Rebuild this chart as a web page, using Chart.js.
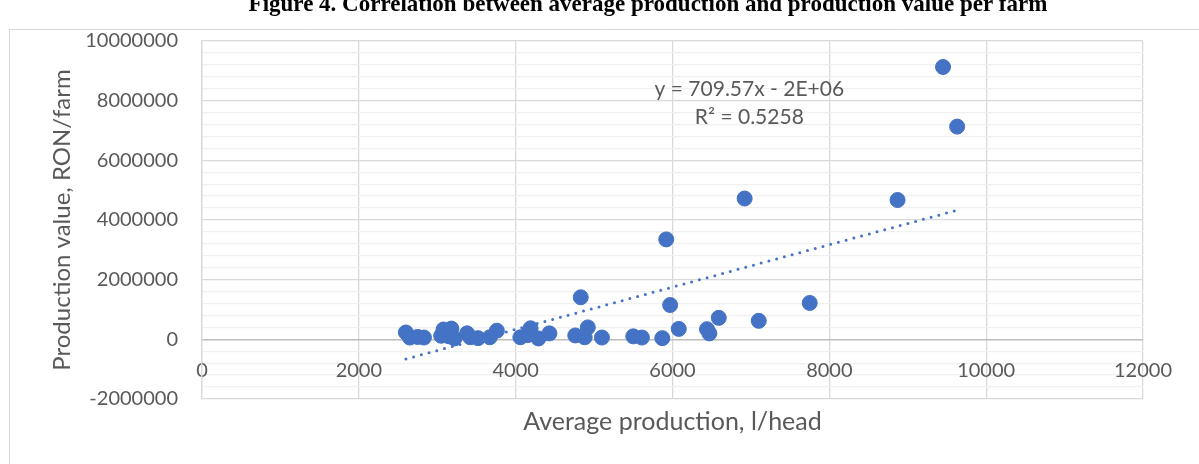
<!DOCTYPE html>
<html>
<head>
<meta charset="utf-8">
<script src="https://cdn.jsdelivr.net/npm/chart.js@4/dist/chart.umd.min.js"></script>
<style>
	html, body { margin: 0; padding: 0; background: #fff; }
	#wrap { position: relative; width: 1199px; height: 464px; overflow: hidden; }
</style>
</head>
<body>
<div id="wrap"><canvas id="chart" width="1199" height="464"></canvas></div>
<script>
// average production, l/head
const prodX = [2600, 2650, 2750, 2830, 3050, 3080, 3150, 3180, 3220, 3380,
	3420, 3520, 3670, 3760, 4060, 4150, 4190, 4290, 4430, 4760,
	4830, 4880, 4920, 5100, 5500, 5610, 5870, 5920, 5970, 6080,
	6440, 6470, 6590, 7100, 7750, 6920, 8870, 9450, 9630]
// production value, RON/farm
const prodY = [230000, 60000, 80000, 60000, 120000, 330000, 100000, 360000, 30000, 200000,
	70000, 40000, 70000, 290000, 70000, 140000, 370000, 30000, 200000, 130000,
	1410000, 70000, 400000, 60000, 100000, 60000, 40000, 3350000, 1150000, 350000,
	340000, 200000, 720000, 620000, 1220000, 4720000, 4670000, 9130000, 7130000]
// linear trendline as labelled in the picture
const trendSlope = 709.57
const trendIntercept = -2505000
const trendLabels = ['y = 709.57x - 2E+06', 'R\u00b2 = 0.5258']
const xTicks = [0, 2000, 4000, 6000, 8000, 10000, 12000]
const yTicks = [-2000000, 0, 2000000, 4000000, 6000000, 8000000, 10000000]

const blue = '#4472C4'
const grey = '#595959'
const fontFam = 'Lato, "Open Sans", sans-serif'

let points = prodX.map((x, i) => ({ x: x, y: prodY[i] }))
let tx = [Math.min(...prodX), Math.max(...prodX)]
let trendPts = tx.map(x => ({ x: x, y: trendSlope * x + trendIntercept }))

let framePlugin = {
	id: 'frame',
	beforeDraw: chart => {
		let c = chart.ctx
		c.save()
		c.fillStyle = '#fff'
		c.fillRect(0, 0, chart.width, chart.height)
		c.strokeStyle = '#d9d9d9'
		c.lineWidth = 1
		c.beginPath()
		c.moveTo(9.5, chart.height)
		c.lineTo(9.5, 29.5)
		c.lineTo(chart.width, 29.5)
		c.stroke()
		c.restore()
	},
	afterDraw: chart => {
		let c = chart.ctx
		let sx = chart.scales.x, sy = chart.scales.y
		c.save()
		// figure caption, cut at the top of the picture
		c.fillStyle = '#000'
		c.font = 'bold 23px "Liberation Serif", serif'
		c.textAlign = 'center'
		c.textBaseline = 'alphabetic'
		c.fillText('Figure 4. Correlation between average production and production value per farm', 648, 11)
		// trendline label
		c.fillStyle = grey
		c.font = '21px ' + fontFam
		c.textBaseline = 'middle'
		c.fillText(trendLabels[0], sx.getPixelForValue(6980), sy.getPixelForValue(8390000))
		c.fillText(trendLabels[1], sx.getPixelForValue(6980), sy.getPixelForValue(7450000))
		c.restore()
	}
}

new Chart(document.getElementById('chart'), {
	type: 'scatter',
	data: {
		datasets: [{
			label: 'Production value',
			data: points,
			backgroundColor: blue,
			borderColor: blue,
			pointRadius: 7.5,
			pointHoverRadius: 7.5,
			order: 1
		}, {
			type: 'line',
			label: 'Linear trend',
			data: trendPts,
			borderColor: blue,
			borderWidth: 3,
			borderDash: [0, 8],
			borderCapStyle: 'round',
			pointRadius: 0,
			fill: false,
			order: 2
		}]
	},
	options: {
		responsive: false,
		animation: false,
		layout: { padding: { left: 48, top: 41, right: 56, bottom: 65 } },
		plugins: {
			legend: { display: false },
			tooltip: { enabled: false }
		},
		scales: {
			x: {
				type: 'linear',
				min: xTicks[0],
				max: xTicks[xTicks.length - 1],
				position: { y: 0 },
				afterBuildTicks: s => { s.ticks = xTicks.map(v => ({ value: v })) },
				ticks: {
					color: grey,
					font: { size: 20, family: fontFam },
					padding: 19,
					maxRotation: 0,
					callback: v => String(v)
				},
				grid: { color: '#d9d9d9', lineWidth: 1.3, drawTicks: false },
				border: { color: '#bfbfbf', width: 1.5 },
				title: {
					display: true,
					text: 'Average production, l/head',
					color: grey,
					font: { size: 25, family: fontFam },
					padding: { top: 6, bottom: 0 }
				}
			},
			y: {
				min: yTicks[0],
				max: yTicks[yTicks.length - 1],
				afterFit: s => { s.width = 154 },
				ticks: {
					stepSize: 400000,
					autoSkip: false,
					color: grey,
					font: { size: 20, family: fontFam },
					padding: 24,
					callback: v => yTicks.includes(v) ? String(v) : ''
				},
				grid: {
					color: c => yTicks.includes(c.tick.value) ? '#d9d9d9' : '#f0f0f0',
					lineWidth: 1.3,
					drawTicks: false
				},
				border: { color: '#d9d9d9', width: 1.3 },
				title: {
					display: true,
					text: 'Production value, RON/farm',
					color: grey,
					font: { size: 24, family: fontFam },
					padding: 0
				}
			}
		}
	},
	plugins: [framePlugin]
})
</script>
</body>
</html>
